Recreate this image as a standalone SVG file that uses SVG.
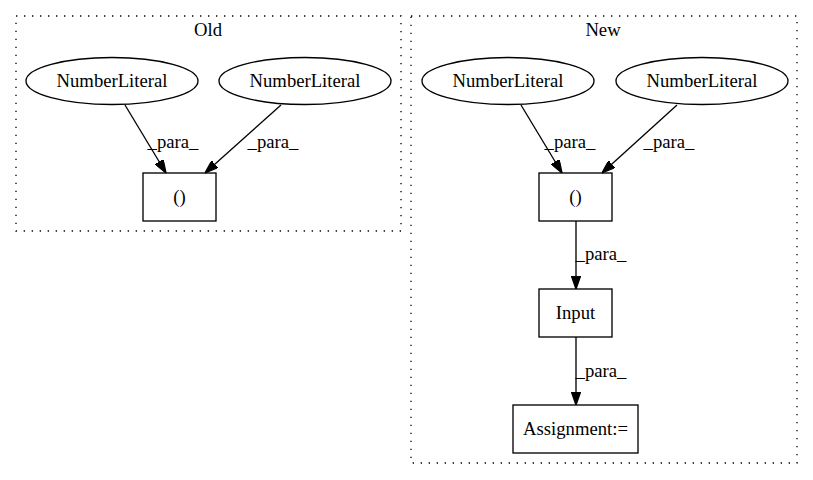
<svg xmlns="http://www.w3.org/2000/svg" width="813" height="480" viewBox="0 0 813 480">
<style>
text{font-family:"Liberation Serif","Times New Roman",serif;font-size:18.67px;fill:#000;text-anchor:middle}
.cl{fill:none;stroke:#000;stroke-width:1.33;stroke-dasharray:1.33,6.67}
.n{fill:none;stroke:#000;stroke-width:1.33}
.e{fill:none;stroke:#000;stroke-width:1.33;marker-end:url(#ah)}
</style>
<defs>
<marker id="ah" markerUnits="userSpaceOnUse" viewBox="0 0 10 7" refX="10" refY="3.5" markerWidth="13.3" markerHeight="9.3" orient="auto">
<path d="M0,0 L10,3.5 L0,7 z" fill="#000" stroke="#000" stroke-width="1"/>
</marker>
</defs>
<rect width="813" height="480" fill="#fff"/>
<g id="cluster_old">
<rect class="cl" x="16" y="16" width="385" height="215"/>
<text x="208" y="36">Old</text>
</g>
<g id="cluster_new">
<rect class="cl" x="411" y="16" width="386" height="447"/>
<text x="603" y="36">New</text>
</g>
<g id="old_nl1"><ellipse class="n" cx="112" cy="81" rx="86" ry="23.5"/><text x="112" y="87">NumberLiteral</text></g>
<g id="old_nl2"><ellipse class="n" cx="305" cy="81" rx="86" ry="23.5"/><text x="305" y="87">NumberLiteral</text></g>
<g id="old_tuple"><rect class="n" x="143" y="173" width="73" height="48"/><text x="179.5" y="203">()</text></g>
<g id="new_nl1"><ellipse class="n" cx="508" cy="81" rx="86" ry="23.5"/><text x="508" y="87">NumberLiteral</text></g>
<g id="new_nl2"><ellipse class="n" cx="702" cy="81" rx="86" ry="23.5"/><text x="702" y="87">NumberLiteral</text></g>
<g id="new_tuple"><rect class="n" x="539" y="173" width="73" height="48"/><text x="575.5" y="203">()</text></g>
<g id="new_input"><rect class="n" x="539" y="289" width="73" height="48"/><text x="575.5" y="319">Input</text></g>
<g id="new_assign"><rect class="n" x="513" y="405" width="125" height="48"/><text x="575.5" y="435">Assignment:=</text></g>
<g id="connectors">
<path class="e" d="M125,105 L166,173"/>
<text x="173" y="148">_para_</text>
<path class="e" d="M281,105 L205,173"/>
<text x="273" y="148">_para_</text>
<path class="e" d="M521,105 L562,173"/>
<text x="570" y="148">_para_</text>
<path class="e" d="M677,105 L602,173"/>
<text x="669" y="148">_para_</text>
<path class="e" d="M576,221 L576,289"/>
<text x="601" y="260">_para_</text>
<path class="e" d="M576,337 L576,405"/>
<text x="601" y="377">_para_</text>
</g>
</svg>
